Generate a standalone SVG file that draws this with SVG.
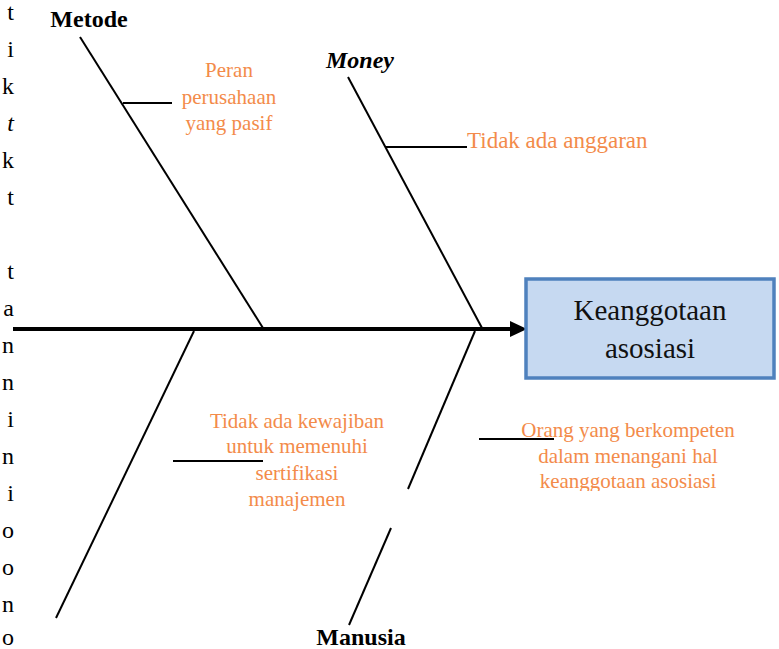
<svg xmlns="http://www.w3.org/2000/svg" width="779" height="649" viewBox="0 0 779 649">
<style>
.bone{stroke:#000;stroke-width:2;fill:none}
.spine{stroke:#000;stroke-width:4;fill:none}
.lbl{font-family:"Liberation Serif","Times New Roman",serif;font-weight:bold;font-size:24px;fill:#000;text-anchor:middle}
.cause{font-family:"Liberation Serif","Times New Roman",serif;font-size:21px;fill:#F38B4A;text-anchor:middle}
.cause-l{font-family:"Liberation Serif","Times New Roman",serif;font-size:23px;fill:#F38B4A;text-anchor:start}
.edge{font-family:"Liberation Serif","Times New Roman",serif;font-size:24px;fill:#000;text-anchor:end}
.head{font-family:"Liberation Serif","Times New Roman",serif;font-size:29px;fill:#111;text-anchor:middle}
</style>
<defs>
<clipPath id="clipOrang"><rect x="480" y="400" width="299" height="91"/></clipPath>
</defs>
<rect width="779" height="649" fill="#fff"/>
<g id="margin-text">
<text class="edge" x="14" y="20">t</text>
<text class="edge" x="14" y="57">i</text>
<text class="edge" x="14" y="94">k</text>
<text class="edge" x="14" y="131" font-style="italic">t</text>
<text class="edge" x="14" y="168">k</text>
<text class="edge" x="14" y="205">t</text>
<text class="edge" x="14" y="279">t</text>
<text class="edge" x="14" y="316">a</text>
<text class="edge" x="14" y="353">n</text>
<text class="edge" x="14" y="390">n</text>
<text class="edge" x="14" y="427">i</text>
<text class="edge" x="14" y="464">n</text>
<text class="edge" x="14" y="501">i</text>
<text class="edge" x="14" y="538">o</text>
<text class="edge" x="14" y="575">o</text>
<text class="edge" x="14" y="612">n</text>
<text class="edge" x="14" y="645">o</text>
</g>
<g id="connectors">
<line class="spine" x1="13" y1="329" x2="512" y2="329"/>
<polygon points="510,321 527,329 510,337" fill="#000"/>
<line class="bone" x1="80" y1="37" x2="263" y2="328"/>
<line class="bone" x1="123" y1="103" x2="172" y2="103"/>
<line class="bone" x1="348" y1="77" x2="482" y2="328"/>
<line class="bone" x1="386" y1="147" x2="467" y2="147"/>
<line class="bone" x1="194" y1="331" x2="56" y2="618"/>
<line class="bone" x1="173" y1="461" x2="263" y2="461"/>
<line class="bone" x1="475" y1="331" x2="408" y2="489"/>
<line class="bone" x1="391" y1="528" x2="349" y2="625"/>
<line class="bone" x1="479" y1="439" x2="554" y2="439"/>
</g>
<g id="head">
<rect x="526" y="279" width="248" height="99" fill="#C6D9F1" stroke="#4F81BD" stroke-width="3.5"/>
<text class="head" x="650" y="320">Keanggotaan</text>
<text class="head" x="650" y="358">asosiasi</text>
</g>
<g id="metode">
<text class="lbl" x="89" y="27">Metode</text>
<text class="cause" x="229" y="77">Peran</text>
<text class="cause" x="229" y="104">perusahaan</text>
<text class="cause" x="229" y="130">yang pasif</text>
</g>
<g id="money">
<text class="lbl" x="360" y="68" style="font-style:italic">Money</text>
<text class="cause-l" x="467" y="148">Tidak ada anggaran</text>
</g>
<g id="lingkungan">
<text class="cause" x="297" y="428">Tidak ada kewajiban</text>
<text class="cause" x="297" y="453">untuk memenuhi</text>
<text class="cause" x="297" y="480">sertifikasi</text>
<text class="cause" x="297" y="506">manajemen</text>
</g>
<g id="manusia">
<text class="lbl" x="361" y="645">Manusia</text>
<g clip-path="url(#clipOrang)">
<text class="cause" x="628" y="437">Orang yang berkompeten</text>
<text class="cause" x="628" y="463">dalam menangani hal</text>
<text class="cause" x="628" y="488">keanggotaan asosiasi</text>
</g>
</g>
</svg>
